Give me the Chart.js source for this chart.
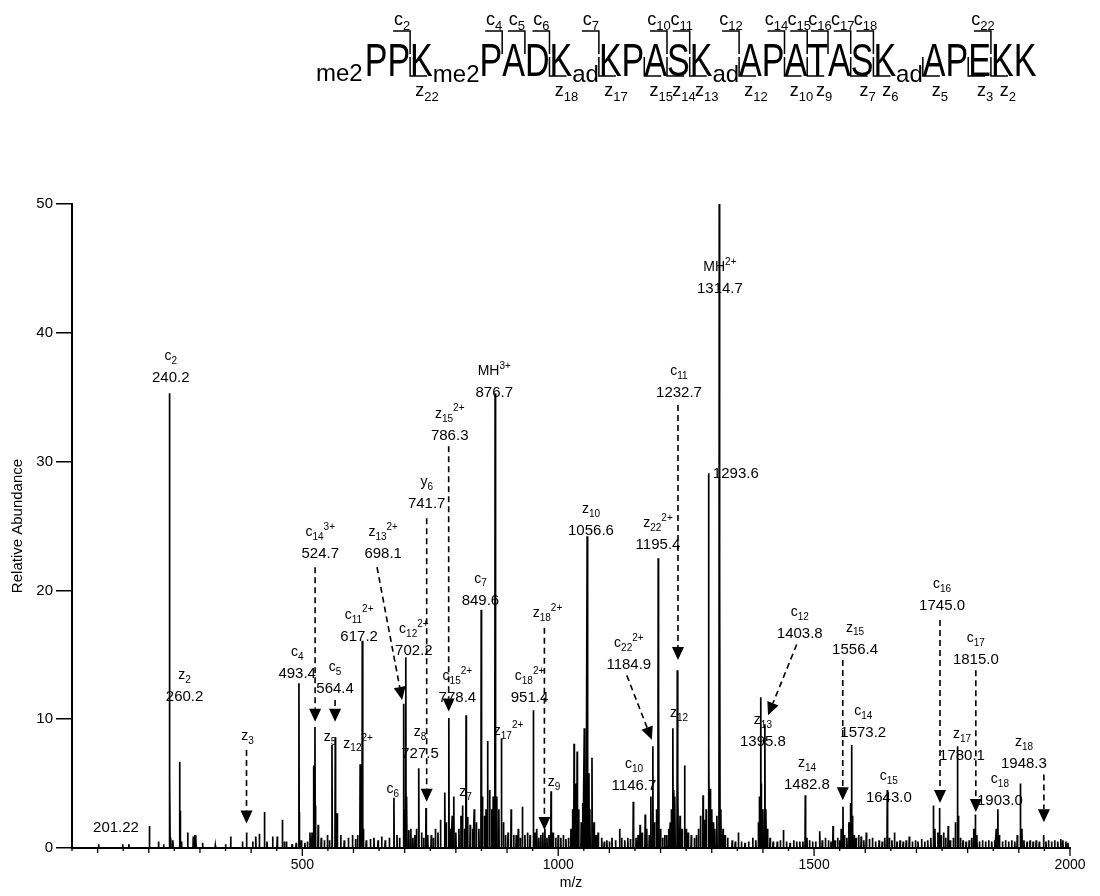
<!DOCTYPE html>
<html>
<head>
<meta charset="utf-8">
<script src="https://cdn.jsdelivr.net/npm/chart.js@4.4.0/dist/chart.umd.min.js"></script>
<style>
body { margin: 0; background: #fff; }
#wrap { width: 1100px; height: 896px; }
</style>
</head>
<body>
<div id="wrap"><canvas id="spectrum" width="1100" height="896"></canvas></div>
<script>
// peaks: m/z and relative abundance
var peakMz = [
    102, 149, 161, 201.2, 219, 229, 240.2, 241.2, 243, 247, 260.2, 261.2, 264, 276, 287, 290, 292, 305, 330, 350,
    360, 383, 391, 403, 409, 416, 426, 431, 442, 451, 461, 465, 469, 480, 488, 493.4, 494.4, 498,
    505, 510, 515, 519, 522, 524.7, 526, 531, 537, 543, 549, 553, 558, 564.4, 568, 575, 582, 590, 598, 604, 608,
    613, 617.2, 619, 625, 633, 640, 648, 655, 662, 670, 679, 685, 690, 698.1, 700, 702.2, 704, 708, 712, 716, 720,
    723, 727.5, 733, 737, 741.7, 745, 752, 756, 760, 765, 770, 778.4, 781, 786.3, 790, 793, 796, 800, 806, 810,
    813, 817, 820, 823, 828, 833, 836, 840, 845, 849.6, 852, 856, 859, 862, 866, 870, 873, 876.7, 877.7, 880,
    884, 889, 893, 897, 902, 908, 913, 918, 922, 926, 930, 935, 940, 945, 951.4, 955, 958, 962, 966, 970,
    974, 978, 982, 986, 990, 995, 1000,
    1005, 1010, 1015, 1020, 1025, 1028, 1031, 1034, 1037, 1040, 1045, 1048, 1051, 1054, 1056.6, 1057.6, 1060, 1062,
    1066, 1070, 1074, 1078, 1085, 1090, 1095, 1100, 1105, 1112, 1120, 1124, 1130, 1136, 1141, 1146.7, 1152, 1156,
    1160, 1164, 1170, 1173, 1178, 1181, 1184.9, 1188, 1192, 1195.4, 1196.4, 1200, 1204, 1208, 1212, 1216, 1219,
    1221, 1224, 1226, 1228, 1232.7, 1234, 1238, 1242, 1247, 1250, 1254, 1260, 1266, 1270, 1274, 1278, 1283, 1286,
    1289, 1293.6, 1294.6, 1297, 1300, 1303, 1306, 1310, 1314.7, 1315.7, 1318, 1322, 1326, 1331, 1340, 1346, 1352,
    1358, 1365, 1372, 1380, 1386, 1391, 1393, 1395.8, 1397, 1400, 1403.8, 1406, 1409, 1414, 1420, 1428, 1434,
    1440, 1446, 1453, 1460, 1466, 1472, 1478, 1482.8, 1486, 1491, 1497,
    1503, 1511, 1516, 1522, 1528, 1533, 1537, 1541, 1546, 1550, 1553, 1556.4, 1559, 1564, 1568, 1571, 1573.2, 1575,
    1578, 1582, 1587, 1592, 1597, 1602, 1608, 1614, 1620, 1627, 1633, 1638, 1643, 1647, 1652, 1657, 1662, 1668,
    1674, 1680, 1686, 1692, 1698, 1703, 1710, 1716, 1722, 1728, 1733, 1736, 1742, 1745, 1748, 1753, 1757, 1762,
    1766, 1772, 1776, 1780.1, 1782, 1786, 1791, 1797, 1803, 1808, 1812, 1815, 1818, 1823, 1829, 1835, 1841, 1847,
    1853, 1856, 1859, 1862, 1868, 1874, 1880, 1886, 1892, 1897, 1903, 1906, 1910, 1916, 1922, 1928, 1934, 1940,
    1948.3, 1953, 1958, 1964, 1970, 1976, 1982, 1986, 1992, 1996
];
var peakAbund = [
    0.3, 0.3, 0.3, 1.7, 0.5, 0.3, 35.3, 5.7, 0.8, 0.6, 6.7, 2.9, 0.5, 1.2, 0.9, 1.0, 1.0, 0.4, 0.2, 0.3,
    0.9, 0.5, 1.2, 0.5, 0.9, 1.1, 2.8, 0.5, 0.9, 0.9, 2.2, 0.5, 0.5, 0.3, 0.4, 12.8, 2.8, 0.6,
    0.4, 0.5, 1.2, 1.2, 6.4, 9.4, 3.3, 1.8, 0.8, 0.6, 1.0, 0.6, 8.0, 8.6, 2.7, 1.0, 0.6, 0.8, 1.0, 0.7, 1.0,
    6.5, 16.1, 1.5, 0.6, 0.7, 0.8, 0.6, 0.9, 0.6, 0.8, 3.9, 1.0, 0.8, 11.2, 3.0, 14.8, 4.0, 1.4, 1.5, 0.8, 1.0,
    1.5, 6.2, 1.2, 0.8, 3.1, 1.0, 1.0, 0.8, 1.5, 1.2, 2.2, 4.3, 2.0, 10.1, 1.5, 2.5, 4.0, 1.2, 1.5, 2.5,
    3.3, 1.5, 10.3, 2.4, 1.8, 1.5, 3.0, 2.0, 1.5, 18.5, 4.0, 2.5, 3.0, 8.3, 4.5, 3.0, 4.0, 35.3, 24.5, 4.0,
    3.0, 8.5, 2.0, 1.0, 1.2, 3.0, 1.0, 1.0, 1.5, 0.8, 3.2, 1.0, 1.2, 1.0, 10.7, 1.2, 1.5, 0.8, 1.0, 1.2,
    1.5, 0.8, 1.0, 4.4, 1.2, 0.8, 1.0,
    0.8, 1.0, 0.7, 0.8, 1.5, 3.0, 8.1, 5.0, 7.5, 3.0, 2.0, 3.5, 9.3, 5.0, 24.2, 15.0, 5.8, 3.0,
    7.0, 2.0, 1.0, 1.2, 0.8, 0.5, 0.6, 0.5, 0.8, 0.6, 1.5, 0.8, 0.6, 0.8, 0.7, 3.6, 0.8, 1.0,
    1.8, 1.2, 2.6, 1.5, 1.0, 4.0, 7.9, 2.0, 3.0, 22.5, 10.9, 1.5, 0.8, 1.0, 1.0, 1.5, 2.0,
    3.0, 9.3, 4.5, 4.0, 13.8, 5.0, 2.5, 1.5, 6.4, 1.5, 1.2, 1.0, 0.8, 1.0, 1.5, 2.5, 4.1, 2.2,
    3.0, 29.1, 7.9, 4.6, 3.0, 2.0, 1.5, 2.5, 50, 21.7, 3.0, 1.5, 1.0, 0.8, 0.6, 0.5, 1.2,
    0.5, 0.4, 0.5, 0.8, 0.6, 2.0, 4.0, 11.7, 5.0, 3.0, 9.6, 3.0, 1.5, 0.8, 0.5, 0.5, 0.6,
    1.4, 0.5, 0.4, 0.6, 0.5, 0.5, 0.5, 4.1, 0.8, 0.6, 0.5,
    0.5, 1.3, 0.6, 0.8, 0.6, 0.5, 1.7, 0.6, 0.8, 0.6, 1.5, 3.2, 1.0, 0.8, 2.0, 3.5, 8.0, 2.5,
    1.0, 0.8, 1.0, 0.9, 0.6, 1.2, 0.7, 0.8, 0.5, 0.6, 0.5, 0.8, 4.5, 0.8, 0.6, 1.2, 0.5, 0.6,
    0.5, 0.6, 0.9, 0.5, 0.6, 0.5, 0.7, 0.5, 0.6, 0.8, 3.3, 1.5, 1.2, 3.1, 1.0, 1.2, 0.8, 1.7,
    0.6, 0.8, 2.0, 7.9, 2.5, 0.8, 0.6, 0.5, 0.6, 0.8, 1.5, 2.6, 1.0, 0.5, 0.6, 0.5, 0.6, 0.5,
    0.6, 1.5, 3.0, 1.0, 0.5, 0.6, 0.5, 0.6, 0.5, 1.0, 5.0, 1.5, 0.6, 0.5, 0.6, 0.5, 0.6, 0.5,
    1.0, 0.5, 0.6, 0.5, 0.6, 0.5, 0.7, 0.6, 0.5, 0.4
];

// axis ticks
var yTicks = [0, 10, 20, 30, 40, 50];
var xTickLabels = [500, 1000, 1500, 2000];

// peptide sequence and fragment ions marked on it
var seqResidues = ['P','P','K','P','A','D','K','K','P','A','S','K','A','P','A','T','A','S','K','A','P','E','K','K'];
var seqPrefix = { 0: 'me2' };
var seqSuffix = { 2: 'me2', 6: 'ad', 11: 'ad', 18: 'ad' };
var cIons = [2, 4, 5, 6, 7, 10, 11, 12, 14, 15, 16, 17, 18, 22];
var zIons = [22, 18, 17, 15, 14, 13, 12, 10, 9, 7, 6, 5, 3, 2];

// peak labels: ion, subscript, superscript, m/z text, label m/z, label abundance
var ionLabels = [
    ['', '', '', '201.22', 136, 1.24],
    ['c', '2', '', '240.2', 243, 36.2],
    ['z', '2', '', '260.2', 270, 11.4],
    ['z', '3', '', '', 393, 8.4],
    ['c', '4', '', '493.4', 490, 13.2],
    ['c', '14', '3+', '524.7', 535, 22.5],
    ['c', '5', '', '564.4', 564, 12.0],
    ['z', '5', '', '', 554, 8.3],
    ['c', '11', '2+', '617.2', 611, 16.1],
    ['z', '12', '2+', '', 609, 7.8],
    ['z', '13', '2+', '698.1', 658, 22.5],
    ['c', '12', '2+', '702.2', 718, 15.0],
    ['c', '6', '', '', 677, 4.3],
    ['z', '8', '', '727.5', 730, 7.0],
    ['y', '6', '', '741.7', 743, 26.4],
    ['z', '15', '2+', '786.3', 788, 31.7],
    ['c', '15', '2+', '778.4', 803, 11.3],
    ['z', '7', '', '', 819, 4.0],
    ['c', '7', '', '849.6', 848, 18.9],
    ['MH', '', '3+', '876.7', 875, 35.0],
    ['z', '18', '2+', '', 979, 17.9],
    ['c', '18', '2+', '951.4', 944, 11.3],
    ['z', '17', '2+', '', 903, 8.8],
    ['z', '9', '', '', 992, 4.8],
    ['z', '10', '', '1056.6', 1064, 24.3],
    ['c', '10', '', '1146.7', 1148, 4.5],
    ['c', '22', '2+', '1184.9', 1138, 13.9],
    ['z', '22', '2+', '1195.4', 1195, 23.2],
    ['c', '11', '', '1232.7', 1236, 35.0],
    ['z', '12', '', '', 1236, 10.2],
    ['', '', '', '1293.6', 1347, 28.7],
    ['MH', '', '2+', '1314.7', 1316, 43.1],
    ['z', '13', '', '1395.8', 1400, 7.9],
    ['c', '12', '', '1403.8', 1472, 16.3],
    ['z', '14', '', '1482.8', 1486, 4.6],
    ['z', '15', '', '1556.4', 1580, 15.1],
    ['c', '14', '', '1573.2', 1596, 8.6],
    ['c', '15', '', '1643.0', 1646, 3.6],
    ['c', '16', '', '1745.0', 1750, 18.5],
    ['c', '17', '', '1815.0', 1816, 14.3],
    ['z', '17', '', '1780.1', 1789, 6.8],
    ['c', '18', '', '1903.0', 1863, 3.3],
    ['z', '18', '', '1948.3', 1910, 6.2]
];

// dashed arrows: from (m/z, abundance) to arrow tip (m/z, abundance)
var arrows = [
    [391, 7.6, 391, 1.9],
    [525, 21.8, 525, 9.8],
    [564, 11.5, 564, 9.8],
    [646, 21.8, 695, 11.5],
    [743, 25.6, 743, 3.6],
    [786, 31.2, 786, 10.6],
    [973, 17.1, 973, 1.4],
    [1134, 13.4, 1183, 8.4],
    [1234, 34.4, 1234, 14.6],
    [1466, 15.8, 1410, 10.3],
    [1556, 14.6, 1556, 3.7],
    [1746, 17.7, 1746, 3.5],
    [1816, 13.8, 1816, 2.8],
    [1949, 5.7, 1949, 2.0]
];

var FONT = "'Liberation Sans', Arial, sans-serif";

// profile-like trace: each peak is a narrow spike on the zero baseline
var order = peakMz.map(function (m, i) { return i; }).sort(function (a, b) { return peakMz[a] - peakMz[b]; });
var trace = [{ x: 50, y: 0 }];
order.forEach(function (i) {
    trace.push({ x: peakMz[i] - 0.6, y: 0 });
    trace.push({ x: peakMz[i], y: peakAbund[i] });
    trace.push({ x: peakMz[i] + 0.6, y: 0 });
});
trace.push({ x: 2000, y: 0 });

function drawIonName(ctx, cx, base, ion, sub, sup, size) {
    var small = Math.round(size * 0.72);
    ctx.font = size + 'px ' + FONT;
    var w1 = ctx.measureText(ion).width;
    ctx.font = small + 'px ' + FONT;
    var w2 = ctx.measureText(sub).width;
    var w3 = ctx.measureText(sup).width;
    var x = cx - (w1 + w2 + w3) / 2;
    ctx.textAlign = 'left';
    ctx.textBaseline = 'alphabetic';
    ctx.font = size + 'px ' + FONT;
    ctx.fillText(ion, x, base);
    ctx.font = small + 'px ' + FONT;
    ctx.fillText(sub, x + w1, base + size * 0.28);
    ctx.fillText(sup, x + w1 + w2, base - size * 0.45);
}

function drawSequence(ctx) {
    var bigSize = 46, squeeze = 0.74, smallSize = 24;
    var x = 316, base = 76;
    var cuts = [x];
    ctx.fillStyle = '#000';
    ctx.textAlign = 'left';
    ctx.textBaseline = 'alphabetic';
    seqResidues.forEach(function (aa, i) {
        if (seqPrefix[i]) {
            ctx.font = smallSize + 'px ' + FONT;
            ctx.fillText(seqPrefix[i], x, base + 5);
            x += ctx.measureText(seqPrefix[i]).width + 2;
        }
        ctx.font = bigSize + 'px ' + FONT;
        var w = ctx.measureText(aa).width * squeeze;
        ctx.save();
        ctx.translate(x, base);
        ctx.scale(squeeze, 1);
        ctx.fillText(aa, 0, 0);
        ctx.restore();
        x += w;
        if (seqSuffix[i]) {
            ctx.font = smallSize + 'px ' + FONT;
            ctx.fillText(seqSuffix[i], x, base + 6);
            x += ctx.measureText(seqSuffix[i]).width;
        }
        cuts.push(x);
    });
    ctx.strokeStyle = '#000';
    ctx.lineWidth = 1.5;
    cIons.forEach(function (n) {
        var cx = cuts[n];
        ctx.beginPath();
        ctx.moveTo(cx - 17, 31);
        ctx.lineTo(cx, 31);
        ctx.lineTo(cx, 54);
        ctx.stroke();
        drawIonName(ctx, cx - 8, 25, 'c', String(n), '', 18);
    });
    zIons.forEach(function (m) {
        var cx = cuts[seqResidues.length - m];
        ctx.beginPath();
        ctx.moveTo(cx, 57);
        ctx.lineTo(cx, 76);
        ctx.lineTo(cx + 17, 76);
        ctx.stroke();
        drawIonName(ctx, cx + 17, 96, 'z', String(m), '', 18);
    });
}

var annotatePlugin = {
    id: 'annotate',
    afterDatasetsDraw: function (chart) {
        var ctx = chart.ctx, xs = chart.scales.x, ys = chart.scales.y;
        var area = chart.chartArea;
        ctx.save();
        ctx.fillStyle = '#000';
        ctx.strokeStyle = '#000';

        // x axis tick marks: every 50, longer every 100 and 500
        ctx.lineWidth = 1.3;
        for (var m = 50; m <= 2000; m += 50) {
            var px = xs.getPixelForValue(m);
            var len = m % 500 === 0 ? 8 : (m % 100 === 0 ? 5 : 3);
            ctx.beginPath();
            ctx.moveTo(px, area.bottom);
            ctx.lineTo(px, area.bottom + len);
            ctx.stroke();
        }

        // peak labels
        ionLabels.forEach(function (l) {
            var cx = xs.getPixelForValue(l[4]);
            var by = ys.getPixelForValue(l[5]);
            if (l[3]) {
                ctx.font = '15px ' + FONT;
                ctx.textAlign = 'center';
                ctx.textBaseline = 'alphabetic';
                ctx.fillText(l[3], cx, by);
                if (l[0]) drawIonName(ctx, cx, by - 22, l[0], l[1], l[2], 14);
            } else {
                drawIonName(ctx, cx, by, l[0], l[1], l[2], 14);
            }
        });

        // dashed arrows
        arrows.forEach(function (a) {
            var x1 = xs.getPixelForValue(a[0]), y1 = ys.getPixelForValue(a[1]);
            var x2 = xs.getPixelForValue(a[2]), y2 = ys.getPixelForValue(a[3]);
            var ang = Math.atan2(y2 - y1, x2 - x1);
            var hl = 13, hw = 6;
            var bx = x2 - hl * Math.cos(ang), by = y2 - hl * Math.sin(ang);
            ctx.setLineDash([6, 4]);
            ctx.lineWidth = 1.6;
            ctx.beginPath();
            ctx.moveTo(x1, y1);
            ctx.lineTo(bx, by);
            ctx.stroke();
            ctx.setLineDash([]);
            ctx.beginPath();
            ctx.moveTo(x2, y2);
            ctx.lineTo(bx + hw * Math.sin(ang), by - hw * Math.cos(ang));
            ctx.lineTo(bx - hw * Math.sin(ang), by + hw * Math.cos(ang));
            ctx.closePath();
            ctx.fill();
        });

        drawSequence(ctx);

        // axis titles
        ctx.font = '14px ' + FONT;
        ctx.textAlign = 'center';
        ctx.textBaseline = 'middle';
        ctx.fillText('m/z', (area.left + area.right) / 2, 883);
        ctx.save();
        ctx.translate(18, (area.top + area.bottom) / 2);
        ctx.rotate(-Math.PI / 2);
        ctx.font = '15px ' + FONT;
        ctx.fillText('Relative Abundance', 0, 0);
        ctx.restore();
        ctx.restore();
    }
};

var ctx = document.getElementById('spectrum').getContext('2d');
var chart = new Chart(ctx, {
    type: 'line',
    data: {
        datasets: [{
            data: trace,
            borderColor: '#000',
            borderWidth: 1.7,
            pointRadius: 0,
            fill: false,
            tension: 0
        }]
    },
    options: {
        responsive: false,
        animation: false,
        events: [],
        layout: { padding: { top: 204, right: 30, left: 0, bottom: 0 } },
        plugins: { legend: { display: false }, tooltip: { enabled: false } },
        scales: {
            x: {
                type: 'linear',
                min: 50,
                max: 2000,
                border: { color: '#000', width: 2 },
                grid: { display: false, drawTicks: false },
                afterBuildTicks: function (s) {
                    s.ticks = xTickLabels.map(function (v) { return { value: v }; });
                },
                ticks: {
                    autoSkip: false,
                    maxRotation: 0,
                    padding: 9,
                    color: '#000',
                    font: { family: FONT, size: 14 },
                    callback: function (v) { return String(v); }
                },
                afterFit: function (s) { s.height = 48; }
            },
            y: {
                min: 0,
                max: 50,
                border: { color: '#000', width: 2 },
                grid: { drawOnChartArea: false, drawTicks: true, tickLength: 16, color: '#000', lineWidth: 1.5 },
                afterBuildTicks: function (s) {
                    s.ticks = yTicks.map(function (v) { return { value: v }; });
                },
                ticks: {
                    padding: 3,
                    color: '#000',
                    font: { family: FONT, size: 15 }
                },
                afterFit: function (s) { s.width = 72; }
            }
        }
    },
    plugins: [annotatePlugin]
});
</script>
</body>
</html>
